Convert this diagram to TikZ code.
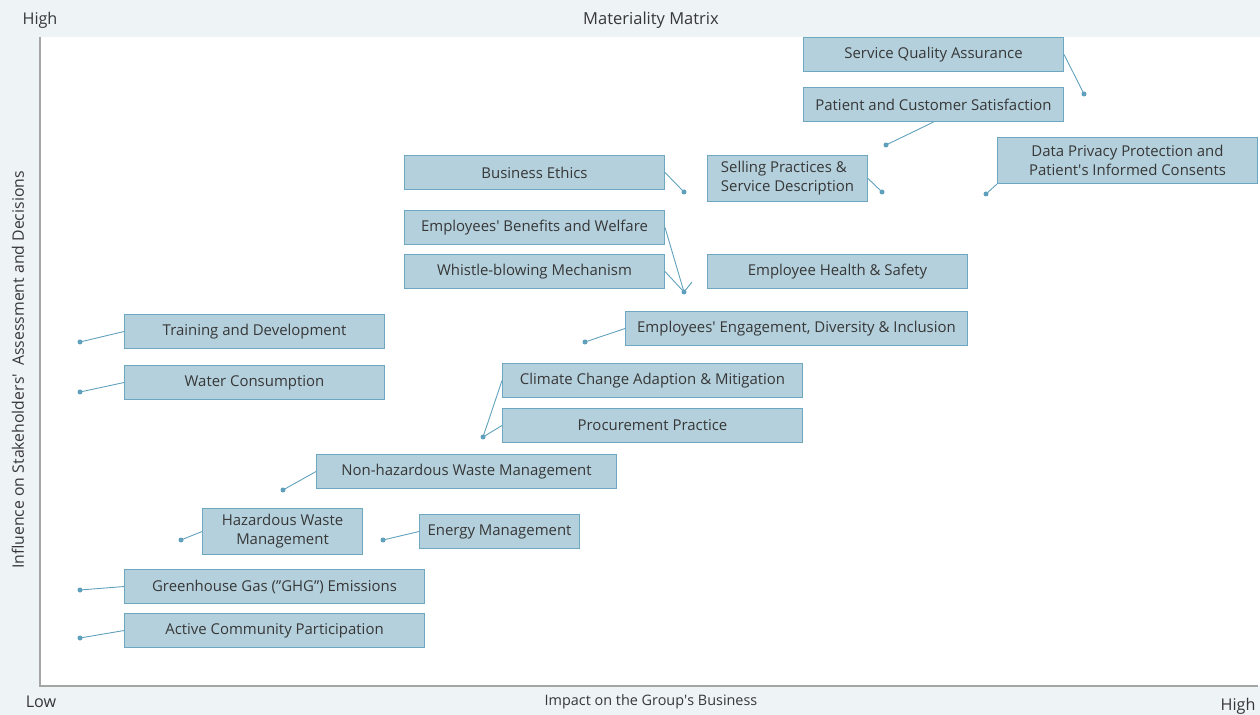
\documentclass[tikz,border=0pt]{standalone}
\usepackage{fontspec}
\setmainfont{Open Sans}
\usepackage{tikz}
\usetikzlibrary{positioning}
\definecolor{pagebg}{RGB}{238,243,246}
\definecolor{boxfill}{RGB}{180,208,220}
\definecolor{boxline}{RGB}{110,168,192}
\definecolor{leadcol}{RGB}{95,160,188}
\definecolor{axiscol}{RGB}{165,165,165}
\definecolor{txtcol}{RGB}{55,55,55}
\newcommand{\apos}{\textquotesingle}
\tikzset{
  matbox/.style={rectangle,draw=boxline,fill=boxfill,line width=0.6pt,anchor=north west,
    minimum width=5.2cm,minimum height=0.68cm,inner sep=0pt,align=center,
    text=txtcol,font=\fontsize{8.5}{10.8}\selectfont},
  tallbox/.style={matbox,minimum height=0.92cm},
  dotnode/.style={circle,fill=leadcol,draw=none,minimum size=0.1cm,inner sep=0pt},
  leader/.style={draw=leadcol,line width=0.5pt},
  axislbl/.style={text=txtcol,font=\fontsize{9.2}{11}\selectfont,inner sep=0pt},
  axisline/.style={draw=axiscol,line width=0.7pt}
}
\begin{document}
\begin{tikzpicture}[x=0.02cm,y=-0.02cm]
  \useasboundingbox (0,0) rectangle (1260,715);
  \fill[pagebg] (0,0) rectangle (1260,715);
  \fill[white] (40,37) rectangle (1260,686);
  \draw[axisline] (40,37) -- (40,686) -- (1258,686);

  %% Axis texts
  \node[axislbl] (hiY) at (40,20) {High};
  \node[axislbl,font=\fontsize{9.4}{11}\selectfont] (title) at (651,20) {Materiality Matrix};
  \node[axislbl,font=\fontsize{8.2}{10}\selectfont] (xlab) at (651,702) {Impact on the Group\apos s Business};
  \node[axislbl] (lowX) at (41,702) {Low};
  \node[axislbl] (hiX) at (1238,706) {High};
  \node[axislbl,font=\fontsize{9}{11}\selectfont,rotate=90] (ylab) at (18,370) {Influence on Stakeholders\apos\ \ Assessment and Decisions};

  %% Topics
  \node[matbox] (sqa) at (803,37) {Service Quality Assurance};
  \node[matbox] (pcs) at (803,87) {Patient and Customer Satisfaction};
  \node[tallbox] (dpp) at (997,137) {Data Privacy Protection and\\Patient\apos s Informed Consents};
  \node[tallbox,minimum width=3.2cm,align=left] (sps) at (707,155) {Selling Practices \&\\Service Description};
  \node[matbox] (bet) at (404,155) {Business Ethics};
  \node[matbox] (ebw) at (404,210) {Employees\apos\ Benefits and Welfare};
  \node[matbox] (wbm) at (404,254) {Whistle-blowing Mechanism};
  \node[matbox] (ehs) at (707,254) {Employee Health \& Safety};
  \node[matbox,minimum width=6.84cm] (edi) at (625,311) {Employees\apos\ Engagement, Diversity \& Inclusion};
  \node[matbox] (tad) at (124,314) {Training and Development};
  \node[matbox] (wac) at (124,365) {Water Consumption};
  \node[matbox,minimum width=6cm] (ccm) at (502,363) {Climate Change Adaption \& Mitigation};
  \node[matbox,minimum width=6cm] (pro) at (502,408) {Procurement Practice};
  \node[matbox,minimum width=6cm] (nhw) at (316,454) {Non-hazardous Waste Management};
  \node[tallbox,minimum width=3.2cm] (hwm) at (202,508) {Hazardous Waste\\Management};
  \node[matbox,minimum width=3.2cm] (enm) at (419,514) {Energy Management};
  \node[matbox,minimum width=6cm] (ghg) at (124,569) {Greenhouse Gas (”GHG”) Emissions};
  \node[matbox,minimum width=6cm] (acp) at (124,613) {Active Community Participation};

  %% Positions
  \node[dotnode] (p1) at (1084,94) {};
  \node[dotnode] (p2) at (886,145) {};
  \node[dotnode] (p3) at (986,194) {};
  \node[dotnode] (p4) at (882,192) {};
  \node[dotnode] (p5) at (684,192) {};
  \node[dotnode] (p6) at (684,292) {};
  \node[dotnode] (p7) at (585,342) {};
  \node[dotnode] (p8) at (80,342) {};
  \node[dotnode] (p9) at (80,392) {};
  \node[dotnode] (p10) at (483,437) {};
  \node[dotnode] (p11) at (283,490) {};
  \node[dotnode] (p12) at (181,540) {};
  \node[dotnode] (p13) at (383,540) {};
  \node[dotnode] (p14) at (80,590) {};
  \node[dotnode] (p15) at (80,638) {};
  \coordinate (ehsend) at (692,282);

  %% Leaders
  \draw[leader] (sqa.east) -- (p1.center);
  \draw[leader] (pcs.south) -- (p2.center);
  \draw[leader] (dpp.south west) -- (p3.center);
  \draw[leader] (sps.east) -- (p4.center);
  \draw[leader] (bet.east) -- (p5.center);
  \draw[leader] (ebw.east) -- (p6.center);
  \draw[leader] (wbm.east) -- (p6.center);
  \draw[leader] (p6.center) -- (ehsend);
  \draw[leader] (edi.west) -- (p7.center);
  \draw[leader] (tad.west) -- (p8.center);
  \draw[leader] (wac.west) -- (p9.center);
  \draw[leader] (ccm.west) -- (p10.center);
  \draw[leader] (pro.west) -- (p10.center);
  \draw[leader] (nhw.west) -- (p11.center);
  \draw[leader] (hwm.west) -- (p12.center);
  \draw[leader] (enm.west) -- (p13.center);
  \draw[leader] (ghg.west) -- (p14.center);
  \draw[leader] (acp.west) -- (p15.center);
\end{tikzpicture}
\end{document}
